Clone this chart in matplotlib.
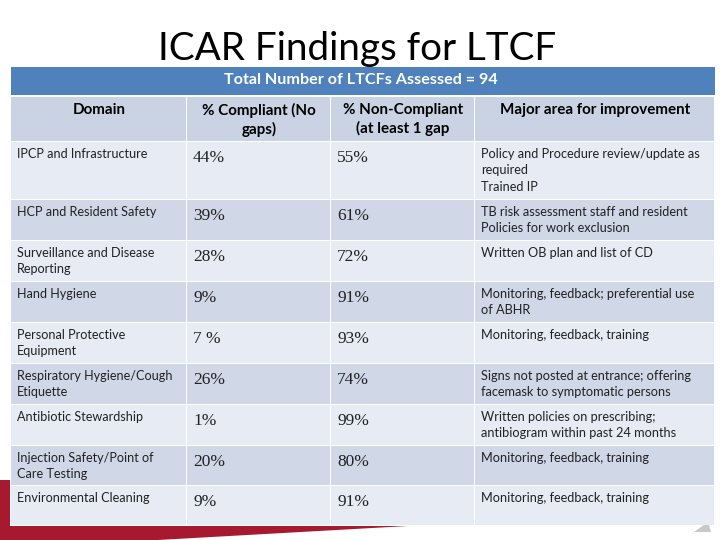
import matplotlib
matplotlib.use("Agg")
import matplotlib.pyplot as plt
from matplotlib.patches import Rectangle, Polygon

title = "ICAR Findings for LTCF"
banner = "Total Number of LTCFs Assessed = 94"
headers = ["Domain", "% Compliant (No\ngaps)", "% Non-Compliant\n(at least 1 gap", "Major area for improvement"]
domains = ["IPCP and Infrastructure", "HCP and Resident Safety", "Surveillance and Disease\nReporting",
           "Hand Hygiene", "Personal Protective\nEquipment", "Respiratory Hygiene/Cough\nEtiquette",
           "Antibiotic Stewardship", "Injection Safety/Point of\nCare Testing", "Environmental Cleaning"]
compliant = ["44%", "39%", "28%", "9%", "7 %", "26%", "1%", "20%", "9%"]
noncompliant = ["55%", "61%", "72%", "91%", "93%", "74%", "99%", "80%", "91%"]
improvement = ["Policy and Procedure review/update as\nrequired\nTrained IP",
               "TB risk assessment staff and resident\nPolicies for work exclusion",
               "Written OB plan and list of CD",
               "Monitoring, feedback; preferential use\nof ABHR",
               "Monitoring, feedback, training",
               "Signs not posted at entrance; offering\nfacemask to symptomatic persons",
               "Written policies on prescribing;\nantibiogram within past 24 months",
               "Monitoring, feedback, training",
               "Monitoring, feedback, training"]

col_edges = [11, 187, 331, 475, 715]
row_edges = [142, 200, 241, 282, 323, 364, 405, 446, 486, 526]
SANS = "Lato"
BLUE, HEAD, LIGHT, DARK = "#4f81bd", "#cad3e4", "#e7ebf4", "#d0d7e7"

fig = plt.figure(figsize=(7.2, 5.4), dpi=100, facecolor="white")
ax = fig.add_axes([0, 0, 1, 1])
ax.set_xlim(0, 720)
ax.set_ylim(540, 0)
ax.axis("off")

ax.add_patch(Polygon([(0, 480), (10, 480), (10, 526), (408, 526), (158, 540), (0, 540)], color="#a6192e", lw=0))
ax.add_patch(Polygon([(694, 532), (708, 522), (711, 532)], color="#c8c8c8", lw=0))

ax.text(357.5, 60, title, fontsize=27.8, family=SANS, ha="center", va="baseline", color="black")
ax.add_patch(Rectangle((11, 67), 704, 28, color=BLUE, lw=0))
ax.text(361, 80.5, banner, fontsize=11.6, family=SANS, weight="bold", color="white", ha="center", va="center")

for i, h in enumerate(headers):
    x0, x1 = col_edges[i], col_edges[i + 1]
    ax.add_patch(Rectangle((x0, 97), x1 - x0 - 1, 44, color=HEAD, lw=0))
    ax.text((x0 + x1) / 2, 103, h, fontsize=10.9, family=SANS, weight="bold", color="black",
            ha="center", va="top", linespacing=1.35)

for r in range(len(domains)):
    y0, y1 = row_edges[r], row_edges[r + 1]
    for c in range(4):
        x0, x1 = col_edges[c], col_edges[c + 1]
        ax.add_patch(Rectangle((x0, y0), x1 - x0 - 1, y1 - y0 - 1, color=LIGHT if r % 2 == 0 else DARK, lw=0))
    ax.text(17, y0 + 6, domains[r], fontsize=9.1, family=SANS, color="#222222", va="top", linespacing=1.43)
    ax.text(193, y0 + 8, compliant[r], fontsize=12.5, family="Liberation Serif", color="#222222", va="top")
    ax.text(337, y0 + 8, noncompliant[r], fontsize=12.5, family="Liberation Serif", color="#222222", va="top")
    ax.text(481, y0 + 6, improvement[r], fontsize=9.2, family=SANS, color="#222222", va="top", linespacing=1.43)

fig.savefig("out.png", dpi=100)
